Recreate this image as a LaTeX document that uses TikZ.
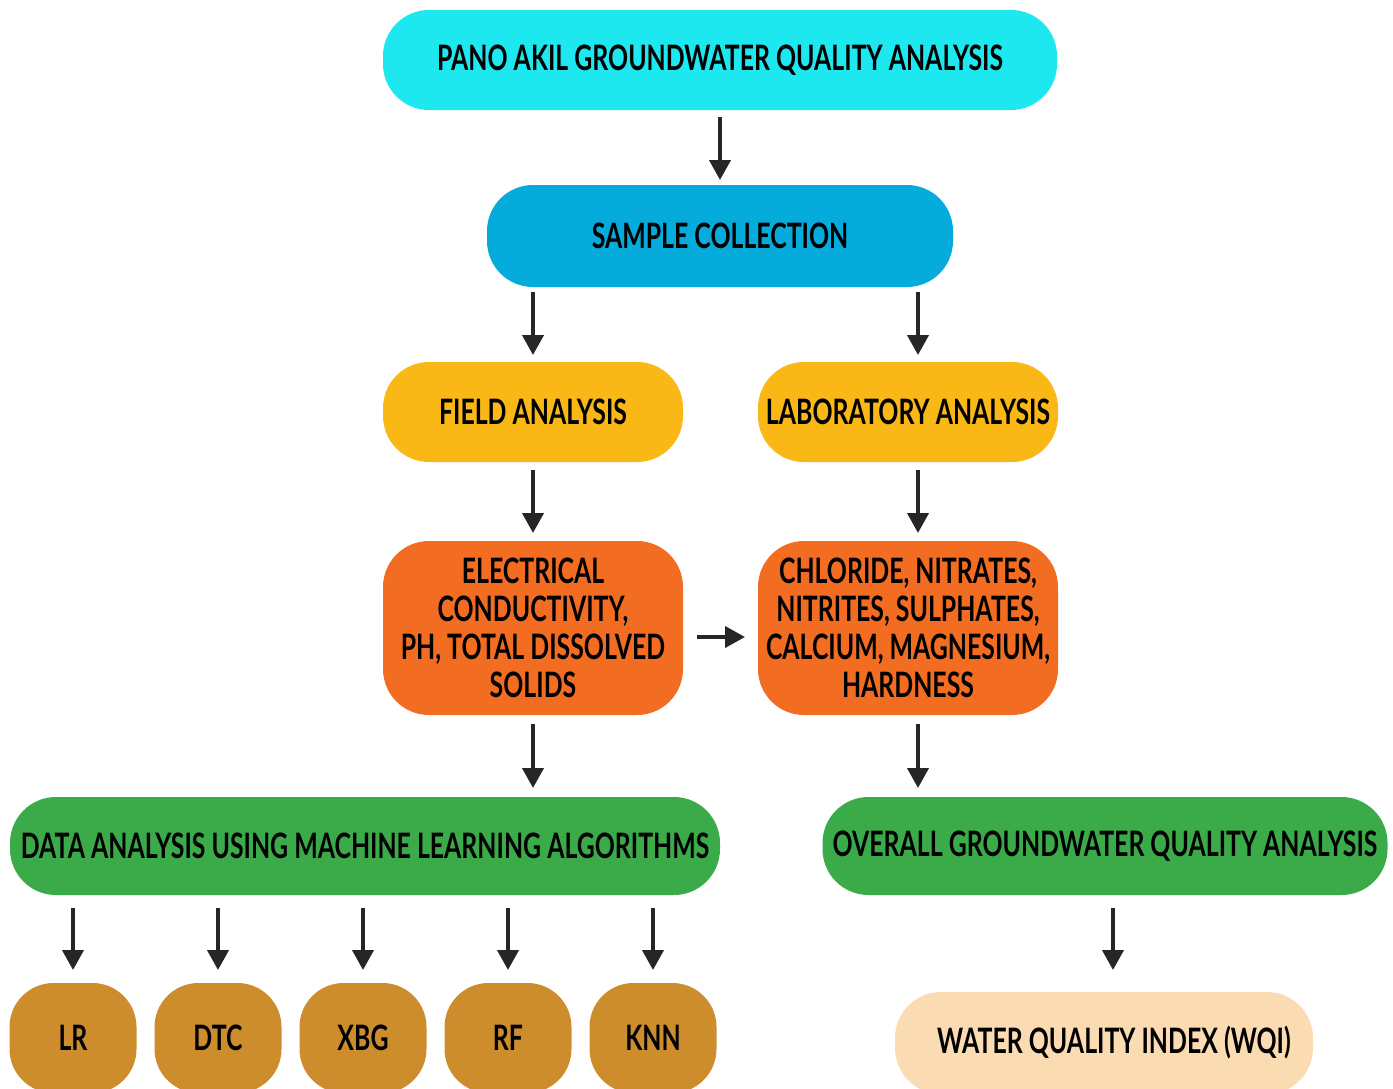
\documentclass[tikz,border=0pt]{standalone}
\usepackage{fontspec}
\setmainfont{Lato}[FakeStretch=0.71]
\usetikzlibrary{arrows.meta,chains,positioning,scopes}
\definecolor{panocyan}{HTML}{1DE7EF}
\definecolor{sampleblue}{HTML}{05ABDB}
\definecolor{analysisyellow}{HTML}{F9B816}
\definecolor{paramorange}{HTML}{F26C22}
\definecolor{resultgreen}{HTML}{3BAB49}
\definecolor{algobrown}{HTML}{CD8D2D}
\definecolor{wqipeach}{HTML}{FBDBB1}
\begin{document}
\begin{tikzpicture}[
                x = 0.5pt, y = -0.5pt,
                node distance = 9pt,
                Arr/.style={-{Triangle[length=10pt, width=10.5pt]}, line width=2pt, black!85},
                FlowBlock/.style={rounded corners=23pt, minimum height=50pt, inner sep=0pt, outer sep=0pt, align=center,
                                  font=\bfseries\fontsize{17.5}{19}\selectfont},
                AlgoBlock/.style={FlowBlock, fill=algobrown, minimum width=63.5pt, minimum height=55pt, rounded corners=22pt, on chain},
            ]
            \clip (0,0) rectangle (1393,1088);
            % main column
            \node [FlowBlock, fill=panocyan, minimum width=337pt] (pano) at (720,60) {PANO AKIL GROUNDWATER QUALITY ANALYSIS};
            \node [FlowBlock, fill=sampleblue, minimum width=233pt, minimum height=51pt] (sample) at (720,236) {SAMPLE COLLECTION};
            \node [FlowBlock, fill=analysisyellow, minimum width=150pt] (field) at (533,412) {FIELD ANALYSIS};
            \node [FlowBlock, fill=analysisyellow, minimum width=150pt] (lab) at (908,412) {LABORATORY ANALYSIS};
            \node [FlowBlock, fill=paramorange, minimum width=150pt, minimum height=87pt] (elec) at (533,628)
                {ELECTRICAL\\CONDUCTIVITY,\\PH, TOTAL DISSOLVED\\SOLIDS};
            \node [FlowBlock, fill=paramorange, minimum width=150pt, minimum height=87pt] (chem) at (908,628)
                {CHLORIDE, NITRATES,\\NITRITES, SULPHATES,\\CALCIUM, MAGNESIUM,\\HARDNESS};
            \node [FlowBlock, fill=resultgreen, minimum width=355pt, minimum height=49pt] (dataml) at (365,846)
                {DATA ANALYSIS USING MACHINE LEARNING ALGORITHMS};
            \node [FlowBlock, fill=resultgreen, minimum width=282.5pt, minimum height=49pt] (overall) at (1105,846)
                {OVERALL GROUNDWATER QUALITY ANALYSIS};
            % algorithms
            { [start chain = going right]
                \node [AlgoBlock] (lr) at (73,1038) {LR};
                \node [AlgoBlock] (dtc) {DTC};
                \node [AlgoBlock] (xbg) {XBG};
                \node [AlgoBlock] (rf) {RF};
                \node [AlgoBlock] (knn) {KNN};
            }
            \node [FlowBlock, fill=wqipeach, minimum width=209pt, minimum height=51pt] (wqi) at (1104,1043)
                {\hspace*{10pt}WATER QUALITY INDEX (WQI)};
            % arrows
            \coordinate (labtop) at ([xshift=5pt]lab.north);
            \coordinate (labbot) at ([xshift=5pt]lab.south);
            \coordinate (chemtop) at ([xshift=5pt]chem.north);
            \coordinate (chembot) at ([xshift=5pt]chem.south);
            \coordinate (wqitop) at ([xshift=4.5pt]wqi.north);
            \draw [Arr, shorten <=3.5pt, shorten >=2.5pt] (pano) -- (sample);
            \draw [Arr, shorten <=2.5pt, shorten >=3.5pt] (sample.south -| field.north) -- (field.north);
            \draw [Arr, shorten <=2.5pt, shorten >=3.5pt] (sample.south -| labtop) -- (labtop);
            \draw [Arr, shorten <=4pt, shorten >=4pt] (field) -- (elec);
            \draw [Arr, shorten <=4pt, shorten >=4pt] (labbot) -- (chemtop);
            \draw [Arr, shorten <=7pt, shorten >=6.5pt] ([yshift=-4.5pt]elec.east) -- ([yshift=-4.5pt]chem.west);
            \draw [Arr, shorten <=4.5pt, shorten >=4.5pt] (elec.south) -- (elec.south |- dataml.north);
            \draw [Arr, shorten <=4.5pt, shorten >=4.5pt] (chembot) -- (chembot |- overall.north);
            \foreach \algo in {lr,dtc,xbg,rf,knn}
                \draw [Arr, shorten <=6.5pt, shorten >=6.5pt] (dataml.south -| \algo.north) -- (\algo.north);
            \draw [Arr, shorten <=6.5pt, shorten >=11pt] (overall.south -| wqitop) -- (wqitop);
        \end{tikzpicture}
\end{document}
